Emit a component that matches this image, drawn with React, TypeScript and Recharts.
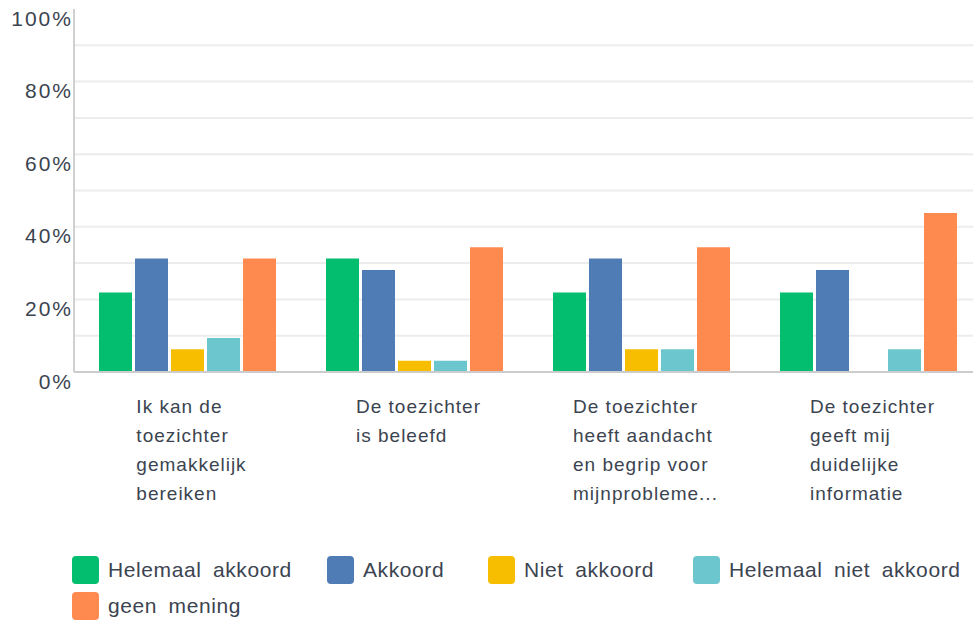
import React from "react";
import { BarChart, Bar, XAxis, YAxis, CartesianGrid, Legend } from "recharts";

// survey answers, share of respondents in %
const categories = [
  "Ik kan de toezichter gemakkelijk bereiken",
  "De toezichter is beleefd",
  "De toezichter heeft aandacht en begrip voor mijnproblemen",
  "De toezichter geeft mij duidelijke informatie",
];
const categoryLines = [
  ["Ik kan de", "toezichter", "gemakkelijk", "bereiken"],
  ["De toezichter", "is beleefd"],
  ["De toezichter", "heeft aandacht", "en begrip voor", "mijnprobleme..."],
  ["De toezichter", "geeft mij", "duidelijke", "informatie"],
];

const helemaalAkkoord = [21.9, 31.3, 21.9, 21.9];
const akkoord = [31.3, 28.1, 31.3, 28.1];
const nietAkkoord = [6.3, 3.1, 6.3, 0];
const helemaalNietAkkoord = [9.4, 3.1, 6.3, 6.3];
const geenMening = [31.3, 34.4, 34.4, 43.8];

const yTicks = [0, 10, 20, 30, 40, 50, 60, 70, 80, 90, 100];
const gridTicks = [10, 20, 30, 40, 50, 60, 70, 80, 90];

const series = [
  { key: "helemaalAkkoord", name: "Helemaal akkoord", color: "#02BE6E" },
  { key: "akkoord", name: "Akkoord", color: "#507CB6" },
  { key: "nietAkkoord", name: "Niet akkoord", color: "#F7BE00" },
  { key: "helemaalNietAkkoord", name: "Helemaal niet akkoord", color: "#6CC6CE" },
  { key: "geenMening", name: "geen mening", color: "#FF8A50" },
];

const data = categories.map((c, i) => ({
  category: c,
  helemaalAkkoord: helemaalAkkoord[i],
  akkoord: akkoord[i],
  nietAkkoord: nietAkkoord[i],
  helemaalNietAkkoord: helemaalNietAkkoord[i],
  geenMening: geenMening[i],
}));

const FONT = '"Liberation Sans", Arial, sans-serif';
const TEXT = "#3B4450";
const legendItemWidths = [255, 161, 205, undefined, undefined];

// y-scale lookup that works across recharts versions
const scaleY = (yAxis: any, offset: any, v: number) => {
  const sc = yAxis && yAxis.scale;
  if (typeof sc === "function") return sc(v);
  if (sc && typeof sc.map === "function") return sc.map(v);
  return offset.top + offset.height * (1 - v / 100);
};

const XTick = (props: any) => {
  const { x, y, payload } = props;
  const lines = categoryLines[categories.indexOf(payload.value)] || [];
  return (
    <foreignObject x={x - 106} y={y} width={220} height={170}>
      <div style={{ display: "flex", justifyContent: "center", paddingTop: 20 }}>
        <div
          style={{
            textAlign: "left",
            fontFamily: FONT,
            fontSize: 19,
            letterSpacing: 1,
            lineHeight: "29px",
            color: TEXT,
            whiteSpace: "nowrap",
          }}
        >
          {lines.map((l) => (
            <div key={l}>{l}</div>
          ))}
        </div>
      </div>
    </foreignObject>
  );
};

const YTick = (props: any) => {
  const { x, y, payload } = props;
  if (payload.value % 20 !== 0) return <g />;
  return (
    <text
      x={x - 1}
      y={y}
      dy={16.5}
      textAnchor="end"
      fill={TEXT}
      fontFamily={FONT}
      fontSize={21}
      letterSpacing={2}
    >
      {payload.value}%
    </text>
  );
};

const renderLegend = () => (
  <div
    style={{
      display: "flex",
      flexWrap: "wrap",
      rowGap: 8,
      paddingLeft: 72,
      paddingTop: 10,
      width: 973,
      boxSizing: "border-box",
      fontFamily: FONT,
      fontSize: 21,
      letterSpacing: 0.6,
      wordSpacing: 5,
      color: TEXT,
    }}
  >
    {series.map((s, i) => (
      <div
        key={s.key}
        style={{ display: "flex", alignItems: "center", height: 28, width: legendItemWidths[i] }}
      >
        <div style={{ width: 27, height: 28, borderRadius: 4, background: s.color, marginRight: 9 }} />
        <span style={{ whiteSpace: "nowrap" }}>{s.name}</span>
      </div>
    ))}
  </div>
);

export default function App() {
  return (
    <div
      style={{
        position: "fixed",
        left: 0,
        top: 0,
        width: 973,
        height: 622,
        overflow: "hidden",
        background: "#fff",
      }}
    >
      <BarChart
        width={982}
        height={622}
        data={data}
        margin={{ top: 9, right: 0, left: 0, bottom: 0 }}
        barSize={33}
        barGap={3}
      >
        <CartesianGrid
          vertical={false}
          stroke="#ececec"
          strokeWidth={2}
          horizontalCoordinatesGenerator={({ yAxis, offset }: any) =>
            gridTicks.map((t) => scaleY(yAxis, offset, t))
          }
        />
        <XAxis
          dataKey="category"
          height={174}
          interval={0}
          tickLine={false}
          tickSize={0}
          tickMargin={0}
          axisLine={{ stroke: "#cccccc", strokeWidth: 2 }}
          tick={<XTick />}
        />
        <YAxis
          width={74}
          domain={[0, 100]}
          ticks={yTicks}
          interval={0}
          tickLine={false}
          tickSize={0}
          tickMargin={0}
          axisLine={{ stroke: "#d0d0d0", strokeWidth: 2 }}
          tick={<YTick />}
        />
        <Legend
          verticalAlign="bottom"
          content={renderLegend}
          wrapperStyle={{ left: 0, bottom: 0, width: 973, height: 76 }}
        />
        {series.map((s) => (
          <Bar
            key={s.key}
            dataKey={s.key}
            name={s.name}
            fill={s.color}
            isAnimationActive={false}
          />
        ))}
      </BarChart>
    </div>
  );
}
